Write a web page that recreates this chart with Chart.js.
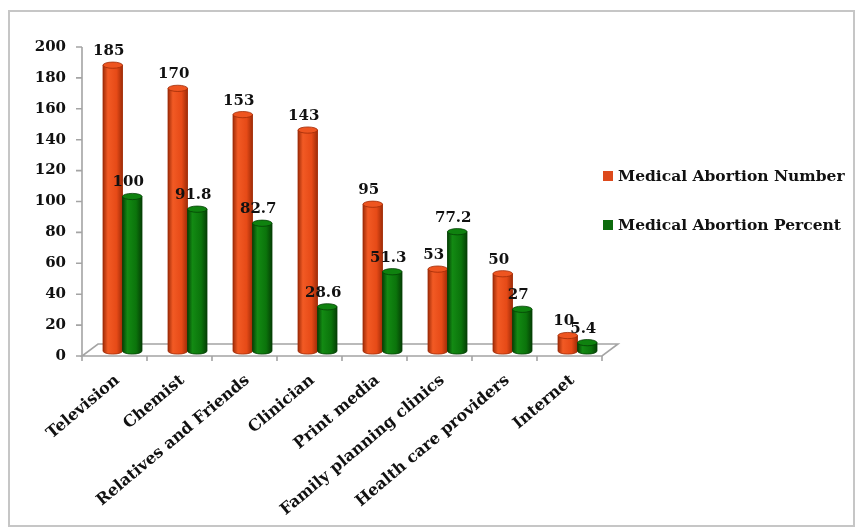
<!DOCTYPE html>
<html><head><meta charset="utf-8">
<script src="https://cdn.jsdelivr.net/npm/chart.js@4.4.1/dist/chart.umd.min.js"></script>
<style>html,body{margin:0;padding:0;background:#fff}#wrap{width:858px;height:529px;position:relative}</style>
</head><body><div id="wrap"><canvas id="c" width="858" height="529"></canvas></div>
<script>
const categories = ['Television','Chemist','Relatives and Friends','Clinician','Print media','Family planning clinics','Health care providers','Internet'];
const numberValues = [185,170,153,143,95,53,50,10];
const percentValues = [100,91.8,82.7,28.6,51.3,77.2,27,5.4];
const yTickValues = [0,20,40,60,80,100,120,140,160,180,200];
const seriesNames = ['Medical Abortion Number','Medical Abortion Percent'];

const FONT = "'DejaVu Serif', 'Liberation Serif', serif";
const palette = [
  {main:'#e64a17', light:'#f25a24', dark:'#a02c08', top:'#ee5520', legend:'#dd4a1c'},
  {main:'#0b740b', light:'#138a13', dark:'#054005', top:'#0f820f', legend:'#0d6b0d'}
];

const deco = {
  id:'deco',
  beforeDraw(chart){
    const ctx = chart.ctx;
    ctx.save();
    ctx.fillStyle = '#fff'; ctx.fillRect(0,0,chart.width,chart.height);
    ctx.strokeStyle = '#c6c6c6'; ctx.lineWidth = 2;
    ctx.strokeRect(9,11,chart.width-13,chart.height-14);
    ctx.restore();
  },
  beforeDatasetsDraw(chart){
    const {ctx, chartArea:a, scales:{x, y}} = chart;
    const fx0 = a.left - 8, fx1 = a.right - 8, fy = y.getPixelForValue(0) + 5;
    ctx.save();
    ctx.strokeStyle = '#a4a4a4'; ctx.lineWidth = 1.6;
    ctx.beginPath();
    ctx.moveTo(fx0, fy); ctx.lineTo(fx1, fy); ctx.lineTo(fx1 + 16, fy - 12); ctx.lineTo(fx0 + 16, fy - 12); ctx.closePath();
    ctx.stroke();
    ctx.beginPath();
    ctx.moveTo(fx0, y.getPixelForValue(yTickValues[yTickValues.length-1]) + 5); ctx.lineTo(fx0, fy);
    y.ticks.forEach(t => { const py = y.getPixelForValue(t.value) + 5; ctx.moveTo(fx0 - 6, py); ctx.lineTo(fx0, py); });
    const n = categories.length, step = (fx1 - fx0) / n;
    for (let i = 0; i <= n; i++) { const px = fx0 + i * step; ctx.moveTo(px, fy); ctx.lineTo(px, fy + 5); }
    ctx.stroke();
    ctx.restore();
  },
  afterDatasetsDraw(chart){
    const ctx = chart.ctx;
    ctx.save();
    chart.data.datasets.forEach((ds, di) => {
      const meta = chart.getDatasetMeta(di);
      const c = palette[di];
      meta.data.forEach(el => {
        const {x, y, base, width} = el.getProps(['x','y','base','width'], true);
        const w = width, l = x - w/2, r = x + w/2, ry = Math.max(2, w*0.16);
        const g = ctx.createLinearGradient(l, 0, r, 0);
        g.addColorStop(0, c.dark); g.addColorStop(0.25, c.light); g.addColorStop(0.7, c.main); g.addColorStop(1, c.dark);
        ctx.fillStyle = g;
        ctx.beginPath();
        ctx.moveTo(l, y); ctx.lineTo(l, base);
        ctx.ellipse(x, base, w/2, ry, 0, Math.PI, 0, true);
        ctx.lineTo(r, y); ctx.closePath();
        ctx.fill();
        ctx.strokeStyle = c.dark; ctx.lineWidth = 0.8; ctx.stroke();
        ctx.beginPath(); ctx.ellipse(x, y, w/2, ry, 0, 0, Math.PI*2);
        ctx.fillStyle = c.top; ctx.fill(); ctx.stroke();
      });
    });
    ctx.font = `bold 15px ${FONT}`; ctx.fillStyle = '#111'; ctx.textAlign = 'center'; ctx.textBaseline = 'middle';
    chart.data.datasets.forEach((ds, di) => {
      chart.getDatasetMeta(di).data.forEach((el, i) => {
        const {x, y} = el.getProps(['x','y'], true);
        ctx.fillText(String(ds.data[i]), x - 4, y - 14);
      });
    });
    ctx.restore();
  },
  afterDraw(chart){
    const ctx = chart.ctx;
    ctx.save();
    ctx.font = `bold 15.5px ${FONT}`; ctx.textBaseline = 'middle'; ctx.textAlign = 'left';
    chart.data.datasets.forEach((ds, di) => {
      const cy = 176 + di * 49;
      ctx.fillStyle = palette[di].legend; ctx.fillRect(603, cy - 5, 10, 10);
      ctx.fillStyle = '#111'; ctx.fillText(ds.label, 618, cy + 1);
    });
    ctx.restore();
  }
};

new Chart(document.getElementById('c'), {
  type: 'bar',
  data: {
    labels: categories,
    datasets: [
      {label: seriesNames[0], data: numberValues, backgroundColor: palette[0].main, borderWidth: 0},
      {label: seriesNames[1], data: percentValues, backgroundColor: palette[1].main, borderWidth: 0}
    ]
  },
  options: {
    responsive: false, animation: false, devicePixelRatio: 1,
    layout: {padding: {left: 0, right: 248, top: 42, bottom: 0}},
    datasets: {bar: {categoryPercentage: 0.6, barPercentage: 1.0}},
    plugins: {legend: {display: false}, tooltip: {enabled: false}},
    scales: {
      x: {
        grid: {display: false}, border: {display: false},
        ticks: {font: {family: FONT, size: 16, weight: 'bold'}, color: '#111', minRotation: 40, maxRotation: 40, autoSkip: false, padding: 12, labelOffset: -5},
        afterFit: s => { s.height = 178; }
      },
      y: {
        min: 0, max: 200,
        grid: {display: false}, border: {display: false},
        afterBuildTicks: s => { s.ticks = yTickValues.map(v => ({value: v})); },
        ticks: {font: {family: FONT, size: 15, weight: 'bold'}, color: '#111', padding: 16, labelOffset: 5},
        afterFit: s => { s.width = 90; }
      }
    }
  },
  plugins: [deco]
});
</script>
</body></html>
